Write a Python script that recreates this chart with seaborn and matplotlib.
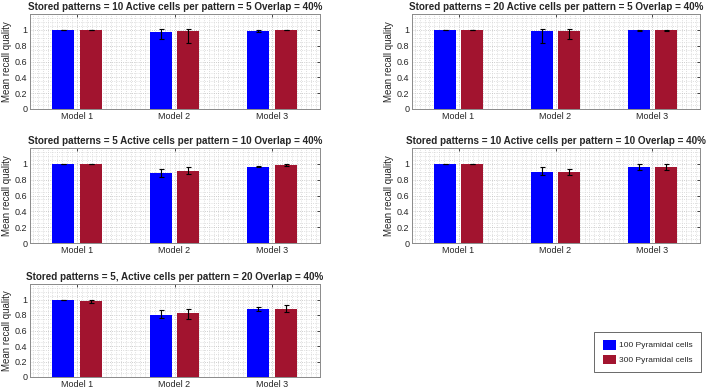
import numpy as np
import pandas as pd
import matplotlib
matplotlib.use("Agg")
import matplotlib.pyplot as plt
from matplotlib.ticker import MultipleLocator, FormatStrFormatter
import seaborn as sns

sns.set_style("white")
plt.rcParams['font.family'] = ['Liberation Sans', 'DejaVu Sans']

models = ["Model 1", "Model 2", "Model 3"]
groups = ["100 Pyramidal cells", "300 Pyramidal cells"]
colors = ["#0000FF", "#A2142F"]

titles = [
    "Stored patterns = 10 Active cells per pattern = 5 Overlap = 40%",
    "Stored patterns = 20 Active cells per pattern = 5 Overlap = 40%",
    "Stored patterns = 5 Active cells per pattern = 10 Overlap = 40%",
    "Stored patterns = 10 Active cells per pattern = 10 Overlap = 40%",
    "Stored patterns = 5, Active cells per pattern = 20 Overlap = 40%",
]

# mean values per panel: [blue M1..M3], [red M1..M3]
means_100 = [
    [1.00, 0.97, 0.985],
    [1.00, 0.98, 1.00],
    [1.00, 0.887, 0.966],
    [1.00, 0.90, 0.966],
    [1.00, 0.805, 0.877],
]
means_300 = [
    [1.00, 0.98, 1.00],
    [1.00, 0.99, 1.00],
    [1.00, 0.908, 0.987],
    [1.00, 0.90, 0.966],
    [0.98, 0.82, 0.877],
]
# error bar lower/upper ends
lo_100 = [
    [0.995, 0.88, 0.975],
    [0.995, 0.83, 0.98],
    [0.995, 0.84, 0.955],
    [0.995, 0.853, 0.92],
    [0.995, 0.763, 0.847],
]
hi_100 = [
    [1.0, 1.01, 0.995],
    [1.0, 1.01, 1.0],
    [1.0, 0.93, 0.975],
    [1.0, 0.958, 1.0],
    [1.0, 0.864, 0.898],
]
lo_300 = [
    [0.995, 0.84, 0.995],
    [0.995, 0.88, 0.985],
    [0.995, 0.874, 0.972],
    [0.995, 0.853, 0.92],
    [0.96, 0.754, 0.843],
]
hi_300 = [
    [1.0, 1.01, 1.0],
    [1.0, 1.01, 1.0],
    [1.0, 0.958, 1.0],
    [1.0, 0.93, 1.0],
    [1.0, 0.873, 0.924],
]

W, H = 708, 392
fig = plt.figure(figsize=(W / 100, H / 100), dpi=100)

# (left, top, right, bottom) in pixels
boxes = [
    (30, 14, 320, 109),
    (412, 14, 700, 109),
    (30, 148, 320, 243),
    (412, 148, 700, 243),
    (30, 284, 320, 377),
]

grey = "#262626"
for i, (l, t, r, b) in enumerate(boxes):
    ax = fig.add_axes([l / W, 1 - b / H, (r - l) / W, (b - t) / H])
    df = pd.DataFrame({
        "Model": models * 2,
        "Group": [groups[0]] * 3 + [groups[1]] * 3,
        "Value": means_100[i] + means_300[i],
    })
    sns.barplot(data=df, x="Model", y="Value", hue="Group", palette=colors,
                errorbar=None, width=0.57, gap=0.21, ax=ax, legend=False,
                saturation=1, edgecolor="none", zorder=3)
    lows = lo_100[i] + lo_300[i]
    highs = hi_100[i] + hi_300[i]
    vals = means_100[i] + means_300[i]
    bars = [p for p in ax.patches][:6]
    for p, v, lo, hi in zip(bars, vals, lows, highs):
        xc = p.get_x() + p.get_width() / 2
        ax.errorbar([xc], [v], yerr=[[v - lo], [hi - v]], fmt="none",
                    ecolor="black", elinewidth=0.8, capsize=1.8, capthick=0.8,
                    zorder=4)
    ax.set_xlim(-0.48, 2.49)
    ax.set_ylim(0, 1.2)
    ax.yaxis.set_minor_locator(MultipleLocator(0.05))
    ax.yaxis.set_major_formatter(FormatStrFormatter("%g"))
    ax.set_yticks([0, 0.2, 0.4, 0.6, 0.8, 1.0])
    ax.xaxis.set_minor_locator(MultipleLocator(0.05))
    ax.grid(True, which="minor", linestyle=":", color="#d4d4d4", linewidth=0.6, zorder=0)
    ax.grid(True, which="major", linestyle=":", color="#bdbdbd", linewidth=0.6, zorder=0)
    ax.set_axisbelow(True)
    ax.set_xlabel("")
    ax.set_ylabel("Mean recall quality", fontsize=7, color=grey, labelpad=2)
    ax.set_title(titles[i], fontsize=7.1, fontweight="bold", pad=3)
    ax.tick_params(axis="both", which="major", labelsize=6.5, colors=grey,
                   direction="in", length=2.5, width=0.6, top=True, right=True, pad=2)
    ax.tick_params(axis="both", which="minor", length=0, top=True, right=True)
    for s in ax.spines.values():
        s.set_color("#8a8a8a")
        s.set_linewidth(0.7)

from matplotlib.patches import Patch
handles = [Patch(facecolor=c, edgecolor="none") for c in colors]
leg = fig.legend(handles, groups, loc="center", bbox_to_anchor=(647.5 / W, 1 - 352 / H),
                 fontsize=6, frameon=True, fancybox=False, edgecolor="#262626",
                 handlelength=1.6, handleheight=1.4, borderpad=1.0, labelspacing=0.6,
                 handletextpad=0.3)
leg.get_frame().set_linewidth(0.6)

fig.savefig("out.png", dpi=100)
